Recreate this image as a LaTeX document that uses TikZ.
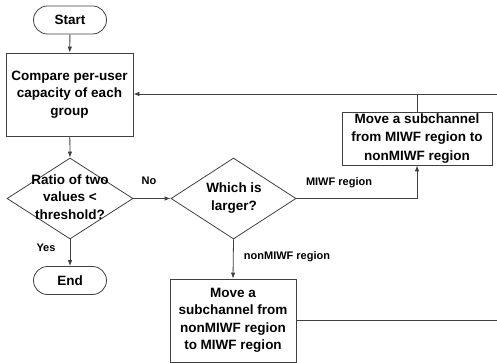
\documentclass[tikz,border=0pt]{standalone}
\usepackage{fontspec}
\setmainfont{Liberation Sans}
\usetikzlibrary{shapes.geometric,arrows.meta}
\begin{document}
\begin{tikzpicture}[x=1pt,y=-1pt,
  line/.style={draw=black!75, line width=0.8pt},
  arr/.style={line, -{Latex[length=6pt,width=4.5pt]}},
  boxtext/.style={font=\fontsize{13.5}{17.5}\selectfont\bfseries, align=center},
  procbox/.style={line, rectangle, inner sep=0pt, boxtext},
  term/.style={line, rectangle, rounded corners=14pt, minimum width=73pt, minimum height=28pt, inner sep=0pt, boxtext},
  dia/.style={line, diamond, inner sep=0pt},
  lbl/.style={font=\fontsize{11}{13}\selectfont\bfseries, inner sep=0pt}
]
\useasboundingbox (0,0) rectangle (497,363);
\node[term] (start) at (70,20) {Start};
\node[procbox, minimum width=127pt, minimum height=83pt] (cmp) at (69.5,94.5) {Compare per-user\\capacity of each\\group};
\node[dia, minimum width=126pt, minimum height=81pt] (ratio) at (70,198.5) {};
\node[boxtext] (ratiot) at (70,197) {Ratio of two\\values <\\threshold?};
\node[term] (end) at (70,280.5) {End};
\node[dia, minimum width=125pt, minimum height=81pt] (which) at (233.5,198.5) {};
\node[boxtext] (whicht) at (234,198) {Which is\\larger?};
\node[procbox, minimum width=150pt, minimum height=53pt, font=\fontsize{13.5}{18.3}\selectfont\bfseries] (miwf) at (417,138.5) {Move a subchannel\\from MIWF region to\\nonMIWF region};
\node[procbox, minimum width=126pt, minimum height=83pt] (non) at (233,320.5) {Move a\\subchannel from\\nonMIWF region\\to MIWF region};

\coordinate (re1) at (497,94);
\coordinate (re2) at (497,320.5);
\coordinate (top1) at (417,94);
\coordinate (bend) at (417,198.5);

\draw[arr] (start) -- (cmp);
\draw[arr] (cmp) -- (ratio.north);
\draw[arr] (ratio.south) -- (end);
\draw[arr] (ratio.east) -- (which.west);
\draw[arr] (which.south) -- (non.north);
\draw[arr] (which.east) -- (bend) -- (miwf.south);
\draw[line] (miwf.north) -- (top1);
\draw[arr] (re1) -- (cmp.east |- re1);
\draw[line] (non.east) -- (re2);

\node[lbl] (yes) at (46,248) {Yes};
\node[lbl] (no) at (149,181) {No};
\node[lbl] (ml) at (339,183) {MIWF region};
\node[lbl] (nl) at (287,257) {nonMIWF region};
\end{tikzpicture}
\end{document}
